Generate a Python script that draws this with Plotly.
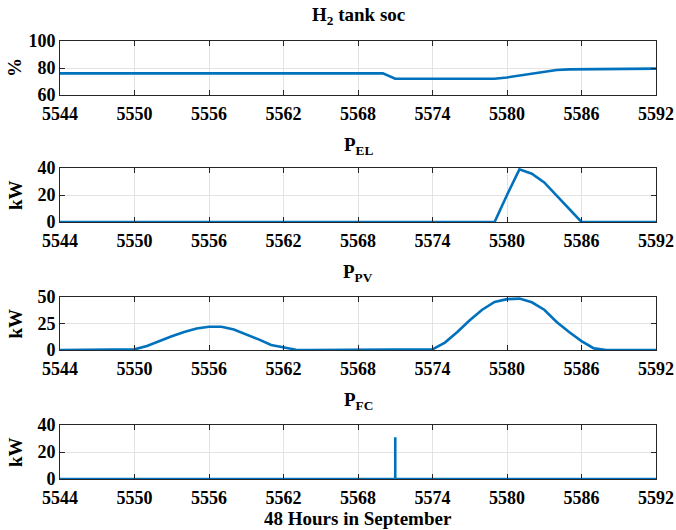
import plotly.graph_objects as go

hours = list(range(5544, 5593))

soc = [76]*27 + [72]*9 + [73, 74.5, 76, 77.5, 78.5, 79] + [79]*6 + [79.5]
# hours 5544..5570 -> 76 (27 values), 5571..5579 -> 72 (9), 5580..5585 rise, 5586..5591 flat, 5592 end

p_el = [0]*36 + [20, 39, 35.8, 29.3, 19.5, 9.8, 0] + [0]*6

p_pv = ([0]*6 + [0.6, 3.7, 8.4, 13, 17, 20.3, 21.9, 21.9, 19.4, 15, 10, 4.7, 2.2, 0.3]
        + [0]*10 + [0.6, 7, 17, 28, 38, 45.3, 48, 48.5, 45, 38, 26.5, 17, 8.4, 1.5] + [0]*5)

fc_hours = [5544, 5571, 5571, 5571, 5592]
fc_kw = [0, 0, 31, 0, 0]

titles = ["H<sub>2</sub> tank soc", "P<sub>EL</sub>", "P<sub>PV</sub>", "P<sub>FC</sub>"]
ylabels = ["%", "kW", "kW", "kW"]
yranges = [[60, 100], [0, 40], [0, 50], [0, 40]]
yticks = [[60, 80, 100], [0, 20, 40], [0, 25, 50], [0, 20, 40]]
xticks = list(range(5544, 5593, 6))

W, H = 676, 530
tops = [41, 168, 297, 425]
bots = [95, 222, 350, 479]
title_y = [16, 146, 273, 401]
left, right = 60, 656

series = [(hours, soc), (hours, p_el), (hours, p_pv), (fc_hours, fc_kw)]

fig = go.Figure()
FONT = "Liberation Serif"
BLUE = "#0072BD"
AX = "#262626"
TF = dict(family=FONT, size=18, color="black", weight="bold")

for i in range(4):
    xa = "x" if i == 0 else f"x{i+1}"
    ya = "y" if i == 0 else f"y{i+1}"
    xs, ys = series[i]
    fig.add_trace(go.Scatter(x=xs, y=ys, mode="lines", xaxis=xa, yaxis=ya,
                             line=dict(color=BLUE, width=2.6), showlegend=False,
                             cliponaxis=True))
    xkey = "xaxis" if i == 0 else f"xaxis{i+1}"
    ykey = "yaxis" if i == 0 else f"yaxis{i+1}"
    fig.layout[xkey] = dict(
        domain=[left / W, right / W], anchor=ya, range=[5544, 5592],
        tickvals=xticks, ticktext=[str(t) for t in xticks],
        ticks="inside", ticklen=5, tickcolor=AX, tickwidth=1,
        showline=True, linecolor=AX, linewidth=1, mirror="ticks",
        showgrid=True, gridcolor="#e3e3e3", gridwidth=1, zeroline=False,
        tickfont=TF, ticklabelstandoff=2, automargin=False,
    )
    fig.layout[ykey] = dict(
        domain=[1 - bots[i] / H, 1 - tops[i] / H], anchor=xa, range=yranges[i],
        tickvals=yticks[i], ticktext=[str(t) for t in yticks[i]],
        ticks="inside", ticklen=5, tickcolor=AX, tickwidth=1,
        showline=True, linecolor=AX, linewidth=1, mirror="ticks",
        showgrid=True, gridcolor="#e3e3e3", gridwidth=1, zeroline=False,
        tickfont=TF, automargin=False,
    )
    fig.add_annotation(text=f"<b>{titles[i]}</b>", x=(left + right) / 2 / W, y=1 - title_y[i] / H,
                       xref="paper", yref="paper", showarrow=False,
                       font=dict(family=FONT, size=19, color="black"),
                       xanchor="center", yanchor="middle")
    fig.add_annotation(text=f"<b>{ylabels[i]}</b>", x=15 / W, y=1 - (tops[i] + bots[i]) / 2 / H,
                       xref="paper", yref="paper", showarrow=False, textangle=-90,
                       font=dict(family=FONT, size=19, color="black"),
                       xanchor="center", yanchor="middle")

fig.add_annotation(text="<b>48 Hours in September</b>", x=(left + right) / 2 / W, y=1 - 518 / H,
                   xref="paper", yref="paper", showarrow=False,
                   font=dict(family=FONT, size=19, color="black"),
                   xanchor="center", yanchor="middle")

fig.update_layout(width=W, height=H, margin=dict(l=0, r=0, t=0, b=0),
                  paper_bgcolor="white", plot_bgcolor="white",
                  font=dict(family=FONT, color="black"))

fig.write_html("out.html")
